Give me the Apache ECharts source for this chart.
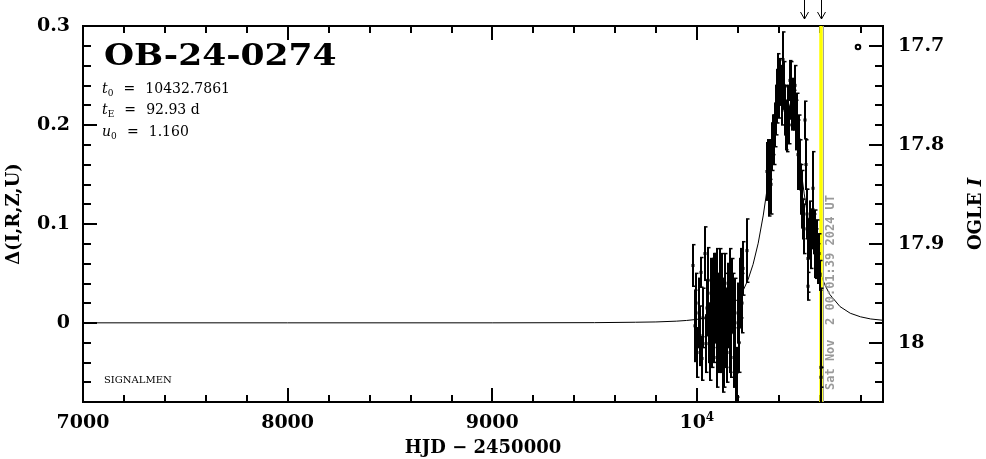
<!DOCTYPE html>
<html><head><meta charset="utf-8">
<script src="https://cdn.jsdelivr.net/npm/echarts@6/dist/echarts.min.js"></script>
<style>html,body{margin:0;padding:0;background:#fff}#c{width:986px;height:459px}</style>
</head><body><div id="c"></div>
<script>
// ---- tick values ----
const xMajorTicks = [7000, 8000, 9000, 10000];
const xMinorTicks = [7200,7400,7600,7800,8200,8400,8600,8800,9200,9400,9600,9800,10200,10400,10600,10800];
const dMajorTicks = [0, 0.1, 0.2, 0.3];
const dMinorTicks = [-0.06,-0.04,-0.02,0.02,0.04,0.06,0.08,0.12,0.14,0.16,0.18,0.22,0.24,0.26,0.28];
const magMajorTicks = [17.7, 17.8, 17.9, 18];
const magMinorTicks = [17.72,17.74,17.76,17.78,17.82,17.84,17.86,17.88,17.92,17.94,17.96,17.98,18.02,18.04];

// ---- observations (HJD-2450000, delta mag, error) ----
const obsT = [9981,9991,9995,10003,10010,10015,10020,10025,10030,10040,10045,10050,10055,10060,10065,10069,10072,10076,10079,10083,10086,10089,10093,10097,10100,10104,10107,10110,10113,10117,10120,10123,10127,10130,10133,10137,10140,10145,10148,10152,10157,10160,10164,10167,10172,10177,10182,10187,10192,10196,10200,10206,10211,10216,10222,10226,10245,
  10343,10348,10353,10358,10362,10367,10372,10377,10382,10387,10392,10397,10401,10406,10411,10416,10420,10426,10431,10436,10441,10446,10451,10456,10460,10465,10470,10475,10480,10485,10490,10495,10500,10504,10509,10514,10519,10524,10529,10533,10538,10541,10543,10548,10553,10558,10563,10568,10572,10577,10582,10587,10592,10597,10602,10606,10606];
const obsD = [0.058,-0.003,0.020,-0.030,0.010,-0.013,0.051,-0.036,0.005,0.070,-0.021,0.015,0.043,-0.010,-0.028,0.030,0.010,-0.015,0.020,0.040,-0.005,0.025,0.010,-0.035,0.045,0.000,0.020,-0.020,0.035,0.005,-0.010,0.030,-0.040,0.010,-0.025,0.020,0.040,-0.005,-0.030,0.025,0.015,-0.020,0.045,-0.010,0.030,0.020,-0.035,0.000,-0.060,-0.050,0.010,-0.020,0.030,0.040,0.020,0.055,0.073,
  0.153,0.160,0.135,0.165,0.140,0.178,0.190,0.185,0.200,0.215,0.229,0.250,0.232,0.250,0.240,0.225,0.266,0.240,0.215,0.200,0.190,0.220,0.200,0.245,0.235,0.220,0.230,0.215,0.240,0.200,0.205,0.170,0.185,0.160,0.135,0.125,0.105,0.095,0.205,0.160,0.110,0.037,0.065,0.085,0.100,0.080,0.095,0.136,0.090,0.080,0.070,0.080,0.060,0.070,0.048,-0.045,-0.055];
const obsErr = [0.021,0.036,0.030,0.025,0.035,0.030,0.015,0.022,0.030,0.027,0.029,0.028,0.033,0.030,0.030,0.035,0.040,0.030,0.045,0.030,0.035,0.045,0.030,0.030,0.030,0.040,0.030,0.030,0.040,0.030,0.040,0.040,0.030,0.035,0.040,0.030,0.030,0.040,0.030,0.035,0.040,0.030,0.030,0.045,0.035,0.030,0.030,0.045,0.030,0.025,0.030,0.030,0.035,0.035,0.030,0.027,0.032,
  0.029,0.025,0.027,0.020,0.030,0.024,0.020,0.025,0.022,0.025,0.027,0.022,0.025,0.017,0.020,0.025,0.028,0.024,0.025,0.025,0.017,0.020,0.019,0.020,0.029,0.025,0.017,0.020,0.020,0.025,0.027,0.035,0.025,0.025,0.025,0.029,0.020,0.025,0.019,0.025,0.025,0.014,0.034,0.020,0.023,0.025,0.020,0.037,0.020,0.034,0.025,0.024,0.020,0.020,0.015,0.080,0.010];

// ---- model curve ----
const modelT = [7000,8000,9000,9500,9700,9800,9900,9950,10000,10050,10100,10150,10200,10225,10250,10275,10300,10325,10350,10375,10387,10400,10410,10420,10433,10445,10455,10465,10475,10487,10500,10525,10550,10575,10600,10625,10650,10700,10750,10800,10850,10910];
const modelD = [0,0,0,0.0002,0.0006,0.0009,0.0017,0.0024,0.0035,0.0053,0.0084,0.0139,0.0240,0.0321,0.0434,0.0591,0.0805,0.1089,0.1443,0.1838,0.2019,0.2192,0.2296,0.2367,0.2400,0.2369,0.2298,0.2199,0.2070,0.1893,0.1688,0.1303,0.0974,0.0717,0.0525,0.0387,0.0287,0.0164,0.0097,0.0061,0.0039,0.0026];

const arrowT = [10524, 10605.6];
const yellowT = 10605.6;
const nowT = 10616.5;
const stamp = 'Sat Nov  2 00:01:39 2024 UT';

const FONT = 'DejaVu Serif';
const chart = echarts.init(document.getElementById('c'), null, {renderer: 'canvas'});

function lineStyle(){ return {color:'#000', width:2}; }
function xAx(pos, ticks, len, withLabel){
  const a = {type:'value', position:pos, min:7000, max:10910, gridIndex:0,
    axisLine:{show:true, onZero:false, lineStyle:lineStyle()},
    axisTick:{show:true, inside:true, length:len, customValues:ticks, lineStyle:lineStyle()},
    axisLabel:{show:false}, splitLine:{show:false}, minorTick:{show:false}};
  if (withLabel) {
    a.axisLabel = {show:true, customValues:xMajorTicks, margin:10, color:'#000',
      fontFamily:FONT, fontWeight:'bold', fontSize:19,
      formatter: v => v === 10000 ? '{b|10}{p|4}' : '{b|' + v + '}',
      rich:{ b:{fontFamily:FONT, fontWeight:'bold', fontSize:19, color:'#000', lineHeight:22},
             p:{fontFamily:FONT, fontWeight:'bold', fontSize:12, color:'#000', lineHeight:10, verticalAlign:'top'} } };
    a.name = 'HJD \u2212 2450000';
    a.nameLocation = 'middle';
    a.nameGap = 37;
    a.nameTextStyle = {fontFamily:FONT, fontWeight:'bold', fontSize:18, color:'#000'};
  }
  return a;
}
function yAx(pos, min, max, inverse, ticks, len, labels){
  const a = {type:'value', position:pos, min:min, max:max, inverse:inverse, gridIndex:0,
    axisLine:{show:true, onZero:false, lineStyle:lineStyle()},
    axisTick:{show:true, inside:true, length:len, customValues:ticks, lineStyle:lineStyle()},
    axisLabel:{show:false}, splitLine:{show:false}, minorTick:{show:false}};
  if (labels) {
    a.axisLabel = {show:true, customValues:labels, margin: pos === 'left' ? 13 : 15, color:'#000',
      fontFamily:FONT, fontWeight:'bold', fontSize:19};
  }
  return a;
}

const yLeft = yAx('left', -0.08, 0.3, false, dMajorTicks, 14, dMajorTicks);
yLeft.name = 'Δ(I,R,Z,U)';
yLeft.nameLocation = 'middle';
yLeft.nameGap = 60;
yLeft.nameRotate = 90;
yLeft.nameTextStyle = {fontFamily:FONT, fontWeight:'bold', fontSize:18, color:'#000'};

const yRight = yAx('right', 17.68, 18.06, true, magMajorTicks, 14, magMajorTicks);
yRight.name = '{n|OGLE }{i|I}';
yRight.nameLocation = 'middle';
yRight.nameGap = 84;
yRight.nameRotate = 90;
yRight.nameTextStyle = {fontFamily:FONT, fontWeight:'bold', fontSize:18, color:'#000',
  rich:{ n:{fontFamily:FONT, fontWeight:'bold', fontSize:18, color:'#000'},
         i:{fontFamily:FONT, fontWeight:'bold', fontStyle:'italic', fontSize:18, color:'#000'} } };

const obsData = obsT.map((t, i) => [t, obsD[i], obsErr[i]]);
const modelData = modelT.map((t, i) => [t, modelD[i]]);

chart.setOption({
  animation:false,
  backgroundColor:'#fff',
  grid:{left:83, right:103, top:26, bottom:57, containLabel:false, outerBoundsMode:'none'},
  xAxis:[ xAx('bottom', xMajorTicks, 14, true), xAx('bottom', xMinorTicks, 7, false),
          xAx('top', xMajorTicks, 14, false), xAx('top', xMinorTicks, 7, false) ],
  yAxis:[ yLeft, yAx('left', -0.08, 0.3, false, dMinorTicks, 8, null),
          yRight, yAx('right', 17.68, 18.06, true, magMinorTicks, 8, null) ],
  series:[
    { type:'line', xAxisIndex:0, yAxisIndex:0, data:modelData, showSymbol:false, symbol:'none',
      lineStyle:{color:'#000', width:1}, clip:true, z:2, silent:true,
      markLine:{ symbol:'none', silent:true, animation:false, label:{show:false},
        data:[ {xAxis:yellowT, lineStyle:{color:'#ffff00', width:3.5, type:'solid'}},
               {xAxis:nowT, lineStyle:{color:'#a0a0a0', width:1, type:'solid'}} ] } },
    { type:'custom', xAxisIndex:0, yAxisIndex:0, data:obsData, z:5, silent:true, clip:true,
      encode:{x:0, y:1},
      renderItem:function(params, api){
        const t = api.value(0), d = api.value(1), e = api.value(2);
        const cs = params.coordSys;
        const p = api.coord([t, d]);
        const pt = api.coord([t, d + e]);
        const pb = api.coord([t, d - e]);
        const yTop = cs.y, yBot = cs.y + cs.height;
        const y1 = Math.max(pt[1], yTop), y2 = Math.min(pb[1], yBot);
        const x = Math.round(p[0]);
        const ch = [];
        if (y2 > y1) ch.push({type:'line', shape:{x1:x, y1:y1, x2:x, y2:y2}, style:{stroke:'#000', lineWidth:2}});
        if (pt[1] >= yTop) ch.push({type:'line', shape:{x1:x-1, y1:pt[1], x2:x+2.5, y2:pt[1]}, style:{stroke:'#000', lineWidth:1.5}});
        if (pb[1] <= yBot) ch.push({type:'line', shape:{x1:x-1, y1:pb[1], x2:x+2.5, y2:pb[1]}, style:{stroke:'#000', lineWidth:1.5}});
        if (p[1] >= yTop && p[1] <= yBot) ch.push({type:'rect', shape:{x:x-1.5, y:p[1]-1.5, width:3, height:3}, style:{fill:'#000'}});
        return {type:'group', children:ch};
      } }
  ]
});

// annotations
const g = [];
arrowT.forEach(t => {
  const x = Math.round(chart.convertToPixel({xAxisIndex:0}, t)) + 0.5;
  g.push({type:'polyline', shape:{points:[[x,0],[x,19]]}, style:{stroke:'#000', lineWidth:1, fill:null}, z:10});
  g.push({type:'polyline', shape:{points:[[x-4,12],[x,19],[x+4,12]]}, style:{stroke:'#000', lineWidth:1, fill:null}, z:10});
});
const nowX = chart.convertToPixel({xAxisIndex:0}, nowT);
g.push({type:'text', x: nowX + 8, y: 390, rotation: Math.PI/2, z:10,
  style:{text:stamp, fill:'#9a9a9a', font:'bold 12px "DejaVu Sans Mono"', align:'left', verticalAlign:'middle'}});
g.push({type:'text', x:104, y:57.5, scaleX:1.15, z:10,
  style:{text:'OB-24-0274', fill:'#000', font:'bold 30px "DejaVu Serif"', align:'left', verticalAlign:'middle'}});
const paramRich = {
  it:{fontFamily:FONT, fontStyle:'italic', fontSize:14, lineHeight:18, fill:'#000'},
  s:{fontFamily:FONT, fontSize:9, fill:'#000', verticalAlign:'bottom'},
  eq:{fontFamily:FONT, fontSize:14, lineHeight:18, width:32, align:'center', fill:'#000'},
  v:{fontFamily:FONT, fontSize:14, lineHeight:18, fill:'#000'}
};
const paramLines = [
  ['t','0','10432.7861', 89.5],
  ['t','E','92.93 d', 110.5],
  ['u','0','1.160', 132]
];
paramLines.forEach(l => {
  g.push({type:'text', x:102, y:l[3], z:10,
    style:{text:'{it|'+l[0]+'}{s|'+l[1]+'}{eq|=}{v|'+l[2]+'}', rich:paramRich, align:'left', verticalAlign:'middle'}});
});
g.push({type:'text', x:104, y:380.5, z:10,
  style:{text:'SIGNALMEN', fill:'#000', font:'10px "DejaVu Serif"', align:'left', verticalAlign:'middle'}});
g.push({type:'circle', shape:{cx:858, cy:47, r:2.3}, style:{stroke:'#000', lineWidth:2, fill:'#fff'}, z:10});
chart.setOption({graphic:g});
</script>
</body></html>
